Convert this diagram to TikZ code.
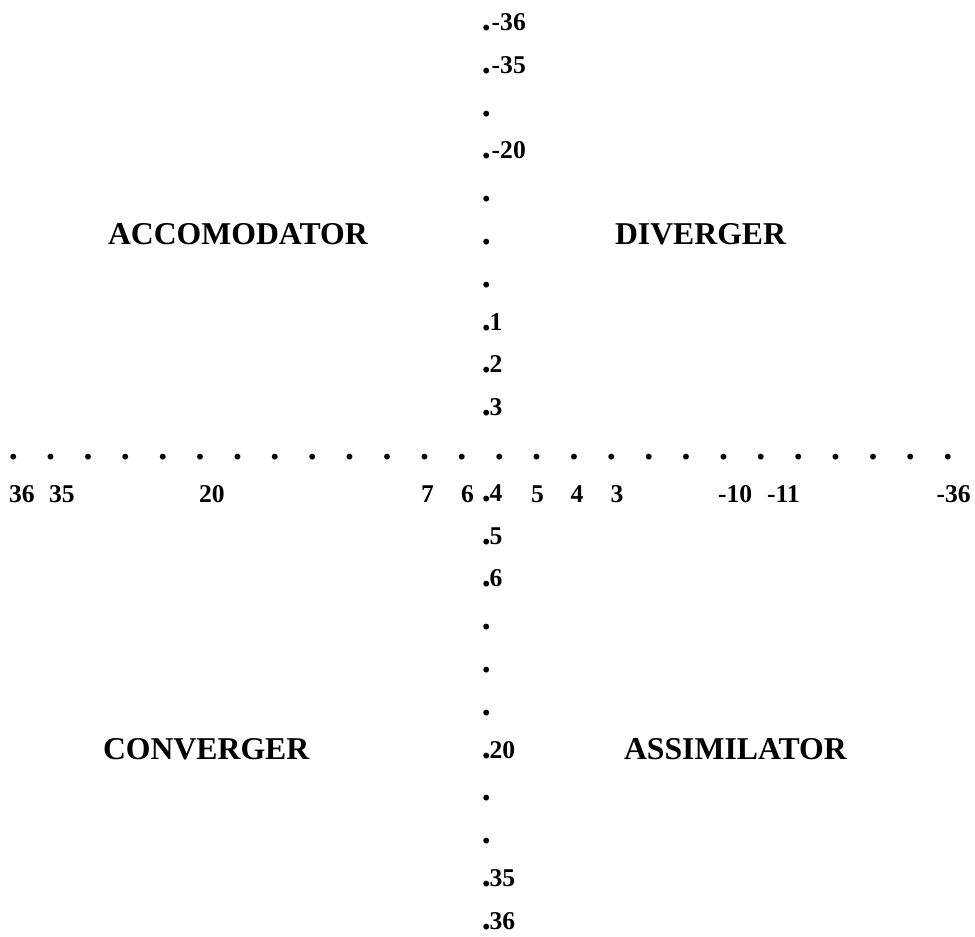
\documentclass[tikz,border=0pt]{standalone}
\usepackage{fontspec}
\setmainfont{Liberation Serif}
\newcommand\bdot{\scalebox{1.4}{.}}
\tikzset{
  num/.style={inner sep=0pt, outer sep=0pt, anchor=base west, font=\bfseries\fontsize{19.2pt}{19.2pt}\selectfont},
  dotc/.style={inner sep=0pt, outer sep=0pt, anchor=base, font=\bfseries\fontsize{19.2pt}{19.2pt}\selectfont},
  style label/.style={inner sep=0pt, outer sep=0pt, anchor=base west, font=\bfseries\fontsize{23.8pt}{23.8pt}\selectfont}
}
\begin{document}
\begin{tikzpicture}[x=0.75pt,y=-0.75pt]
\useasboundingbox (0,0) rectangle (975,936);
% vertical column
\foreach \k/\t in {0/{\kern1.5pt-36},1/{\kern1.5pt-35},2/{},3/{\kern1.5pt-20},4/{},5/{},6/{},7/1,8/2,9/3,11/4,12/5,13/6,14/{},15/{},16/{},17/20,18/{},19/{},20/35,21/36}
  \node[num] (col\k) at (481.8,{30.5+42.8*\k}) {\bdot\kern-0.8pt\t};
% horizontal row of dots
\foreach \i in {0,...,25}
  \node[dotc] (row\i) at ({13.3+37.38*\i},459.5) {\bdot};
% row of numbers
\foreach \x/\t [count=\n] in {9/36,49/35,199/20,421/7,461/6,531/5,570.5/4,610.5/3,718/-10,767/-11,936.5/-36}
  \node[num] (lab\n) at (\x,502) {\t};
% quadrant labels
\node[style label] (acc) at (108,244.5) {ACCOMODATOR};
\node[style label] (div) at (615,244.5) {DIVERGER};
\node[style label] (con) at (103,759.5) {CONVERGER};
\node[style label] (ass) at (624,759.5) {ASSIMILATOR};
\end{tikzpicture}
\end{document}
